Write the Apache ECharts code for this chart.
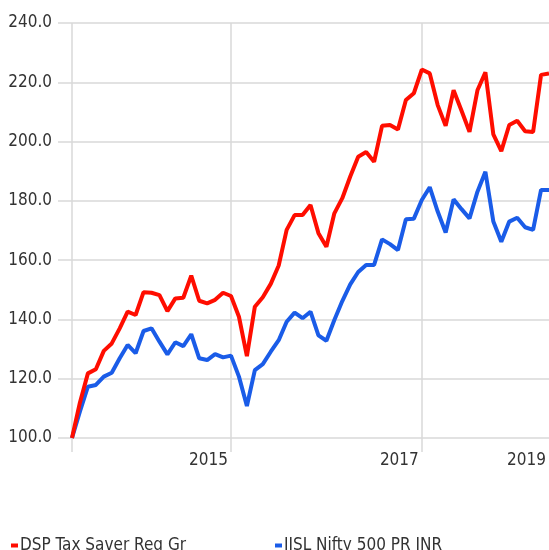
<!DOCTYPE html>
<html>
<head>
<meta charset="utf-8">
<script src="https://cdn.jsdelivr.net/npm/echarts@6/dist/echarts.min.js"></script>
<style>
  html, body { margin: 0; padding: 0; background: #fff; }
  #chart { width: 549px; height: 550px; }
</style>
</head>
<body>
<div id="chart"></div>
<script>
// monthly points, growth of 100
const months = [
  '2014-05', '2014-06', '2014-07', '2014-08', '2014-09', '2014-10', '2014-11', '2014-12',
  '2015-01', '2015-02', '2015-03', '2015-04', '2015-05', '2015-06', '2015-07', '2015-08', '2015-09', '2015-10', '2015-11', '2015-12',
  '2016-01', '2016-02', '2016-03', '2016-04', '2016-05', '2016-06', '2016-07', '2016-08', '2016-09', '2016-10', '2016-11', '2016-12',
  '2017-01', '2017-02', '2017-03', '2017-04', '2017-05', '2017-06', '2017-07', '2017-08', '2017-09', '2017-10', '2017-11', '2017-12',
  '2018-01', '2018-02', '2018-03', '2018-04', '2018-05', '2018-06', '2018-07', '2018-08', '2018-09', '2018-10', '2018-11', '2018-12',
  '2019-01', '2019-02', '2019-03', '2019-04', '2019-05'
];

const dspTaxSaver = [
  100, 112, 121.8, 123.2, 129.4, 131.9, 137.0, 142.6, 141.5, 149.2,
  149.0, 148.2, 142.8, 147.1, 147.3, 154.8, 146.3, 145.4, 146.6, 149.0,
  147.9, 140.9, 127.6, 144.3, 147.5, 152.0, 158.2, 170.2, 175.2, 175.2,
  178.6, 169.1, 164.5, 175.8, 180.9, 188.2, 194.9, 196.5, 193.2, 205.3,
  205.6, 204.1, 214.0, 216.3, 224.3, 223.0, 212.3, 205.3, 217.3, 210.4,
  203.3, 217.3, 223.4, 202.4, 196.8, 205.6, 207.0, 203.5, 203.2, 222.5,
  223.0
];

const nifty500 = [
  100, 109, 117.3, 117.9, 120.7, 122.0, 126.9, 131.4, 128.6, 136.1,
  137.0, 132.5, 128.2, 132.3, 131.0, 135.0, 126.9, 126.3, 128.3, 127.2,
  127.8, 120.7, 110.8, 122.9, 124.9, 129.1, 133.0, 139.2, 142.3, 140.4,
  142.6, 134.6, 132.8, 139.8, 146.2, 151.8, 156.0, 158.4, 158.4, 167.0,
  165.4, 163.4, 173.8, 174.0, 180.3, 184.6, 176.4, 169.3, 180.5, 177.2,
  174.1, 183.1, 189.8, 173.0, 166.2, 173.0, 174.3, 171.1, 170.2, 183.7,
  183.7
];

// x labels sit at the end of each labelled year
const yearLabels = { '2016-01': '2015', '2018-01': '2017', '2019-05': '2019' };
const gridMonths = ['2014-05', '2016-01', '2018-01'];

const fontFamily = '"Liberation Sans Narrow", "DejaVu Sans Condensed", "Roboto", sans-serif';
const fontSize = 17;
const gridColor = '#d9d9d9';
const textColor = '#333333';

const chart = echarts.init(document.getElementById('chart'));

chart.setOption({
  animation: false,
  grid: { left: 72, right: 0, top: 23, bottom: 112 },
  legend: [
    {
      data: ['DSP Tax Saver Reg Gr'],
      left: 11, top: 537, padding: 0,
      icon: 'rect', itemWidth: 7, itemHeight: 4,
      textStyle: { fontFamily: fontFamily, fontSize: fontSize, color: textColor, padding: [0, 0, 0, -3] }
    },
    {
      data: ['IISL Nifty 500 PR INR'],
      left: 275, top: 537, padding: 0,
      icon: 'rect', itemWidth: 7, itemHeight: 4,
      textStyle: { fontFamily: fontFamily, fontSize: fontSize, color: textColor, padding: [0, 0, 0, -3] }
    }
  ],
  xAxis: {
    type: 'category',
    boundaryGap: false,
    data: months,
    axisLine: { show: false },
    axisTick: {
      show: true,
      length: 14,
      interval: (i, v) => gridMonths.includes(v),
      lineStyle: { color: gridColor, width: 1.5 }
    },
    splitLine: {
      show: true,
      interval: (i, v) => gridMonths.includes(v),
      lineStyle: { color: gridColor, width: 1.5 }
    },
    axisLabel: {
      interval: (i, v) => v in yearLabels,
      formatter: v => yearLabels[v] || '',
      align: 'right',
      margin: 14,
      padding: [0, 3, 0, 0],
      hideOverlap: false,
      fontFamily: fontFamily,
      fontSize: fontSize,
      color: textColor
    }
  },
  yAxis: {
    type: 'value',
    min: 100,
    max: 240,
    interval: 20,
    axisLine: { show: false },
    axisTick: { show: true, length: 14, lineStyle: { color: gridColor, width: 1.5 } },
    splitLine: { lineStyle: { color: gridColor, width: 1.5 } },
    axisLabel: {
      formatter: v => v.toFixed(1),
      margin: 20,
      fontFamily: fontFamily,
      fontSize: fontSize,
      color: textColor
    }
  },
  series: [
    {
      name: 'DSP Tax Saver Reg Gr',
      type: 'line',
      data: dspTaxSaver,
      symbol: 'none',
      z: 3,
      itemStyle: { color: '#ff0d00' },
      lineStyle: { color: '#ff0d00', width: 4 }
    },
    {
      name: 'IISL Nifty 500 PR INR',
      type: 'line',
      data: nifty500,
      symbol: 'none',
      z: 2,
      itemStyle: { color: '#1a5ce8' },
      lineStyle: { color: '#1a5ce8', width: 4 }
    }
  ]
});
</script>
</body>
</html>
